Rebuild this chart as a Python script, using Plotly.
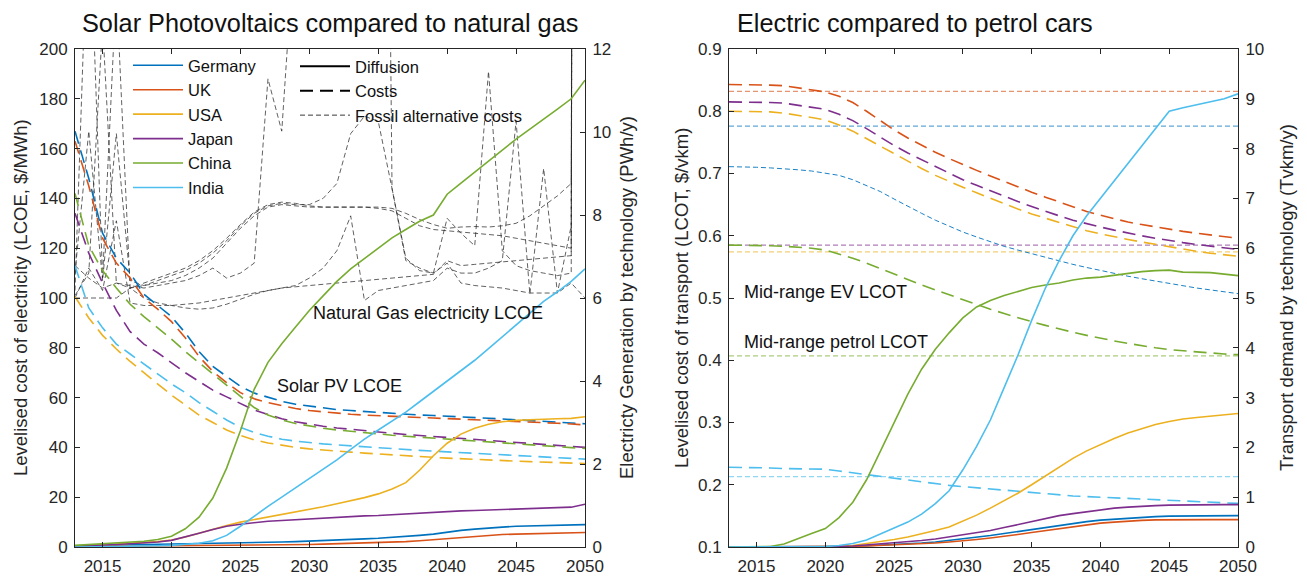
import plotly.graph_objects as go

# ---------------------------------------------------------------- data
years = list(range(2013, 2051))
countries = ["Germany", "UK", "USA", "Japan", "China", "India"]
colors = ["#0072BD", "#D95319", "#EDB120", "#7E2F8E", "#77AC30", "#4DBEEE"]

# Solar PV levelised cost of electricity ($/MWh)
pv_cost_germany = [167, 148, 126, 116, 110, 101.5, 97, 92.5, 86, 78.5, 72.5, 68.5, 64.5, 61.8, 60, 58.5, 57.3, 56.5, 55.7, 55.2,
                   54.8, 54.4, 54, 53.6, 53.3, 53, 52.8, 52.6, 52.3, 52, 51.7, 51.4, 51.1, 50.8, 50.5, 50.2, 49.8, 49.5]
pv_cost_uk = [163, 145, 124, 114, 108, 100, 95.5, 90.5, 84, 76.5, 70.5, 66, 62, 59.5, 58, 56.7, 55.6, 54.8, 54.2, 53.7,
              53.3, 53, 52.7, 52.4, 52.2, 52, 51.8, 51.6, 51.4, 51.2, 51, 50.8, 50.6, 50.3, 50, 49.7, 49.4, 49]
pv_cost_usa = [100.5, 92, 85, 79.5, 74.5, 70, 65.5, 61, 57, 53, 50, 47, 44.8, 43, 41.8, 40.8, 40, 39.4, 38.9, 38.5,
               38.1, 37.7, 37.3, 36.9, 36.6, 36.3, 36, 35.7, 35.4, 35.2, 35, 34.7, 34.5, 34.3, 34.1, 33.9, 33.7, 33.5]
pv_cost_japan = [134, 118, 106, 95, 86.5, 81.5, 78, 74, 70, 66.5, 63, 60.3, 57.5, 55, 53.2, 51.5, 50.3, 49.3, 48.5, 47.8,
                 47.2, 46.6, 46.1, 45.7, 45.2, 44.8, 44.4, 44, 43.6, 43.2, 42.8, 42.4, 42, 41.6, 41.2, 40.8, 40.4, 40]
pv_cost_china = [142, 121, 111, 104, 97.5, 92.5, 88, 83.5, 78.5, 74, 69.5, 65, 60.5, 56, 53, 51, 49.6, 48.5, 47.7, 47,
                 46.4, 45.9, 45.4, 44.9, 44.5, 44.1, 43.7, 43.3, 42.9, 42.5, 42.1, 41.7, 41.3, 40.9, 40.5, 40.2, 39.9, 39.6]
pv_cost_india = [113, 96, 88, 81.5, 77.5, 73.5, 69.5, 65.5, 62, 58, 54.5, 51, 48, 46, 44.5, 43.3, 42.5, 41.9, 41.4, 41,
                 40.6, 40.2, 39.8, 39.4, 39.1, 38.8, 38.5, 38.2, 37.9, 37.6, 37.3, 37, 36.7, 36.4, 36.1, 35.8, 35.5, 35.3]

# Solar PV generation (PWh/y)
pv_gen_germany = [0.03, 0.035, 0.04, 0.045, 0.05, 0.055, 0.06, 0.065, 0.07, 0.075, 0.08, 0.085, 0.09, 0.1, 0.11, 0.12, 0.13, 0.14, 0.15, 0.165,
                  0.18, 0.195, 0.21, 0.23, 0.25, 0.28, 0.31, 0.36, 0.4, 0.43, 0.46, 0.48, 0.5, 0.51, 0.52, 0.525, 0.53, 0.54]
pv_gen_uk = [0.01, 0.012, 0.014, 0.016, 0.018, 0.02, 0.022, 0.024, 0.026, 0.028, 0.03, 0.032, 0.035, 0.04, 0.045, 0.05, 0.055, 0.06, 0.07, 0.08,
             0.09, 0.095, 0.1, 0.11, 0.13, 0.15, 0.175, 0.2, 0.23, 0.26, 0.28, 0.3, 0.31, 0.32, 0.33, 0.34, 0.345, 0.35]
pv_gen_usa = [0.02, 0.03, 0.05, 0.07, 0.09, 0.11, 0.13, 0.17, 0.24, 0.33, 0.43, 0.52, 0.6, 0.66, 0.73, 0.79, 0.85, 0.91, 0.97, 1.04,
              1.11, 1.19, 1.28, 1.4, 1.55, 1.85, 2.2, 2.5, 2.72, 2.86, 2.96, 3.02, 3.05, 3.07, 3.08, 3.09, 3.1, 3.14]
pv_gen_japan = [0.02, 0.03, 0.05, 0.06, 0.08, 0.1, 0.12, 0.16, 0.24, 0.33, 0.42, 0.5, 0.55, 0.59, 0.62, 0.64, 0.66, 0.68, 0.7, 0.72,
                0.73, 0.75, 0.76, 0.78, 0.8, 0.81, 0.83, 0.86, 0.87, 0.88, 0.89, 0.9, 0.91, 0.92, 0.93, 0.94, 0.96, 1.03]
pv_gen_china = [0.04, 0.06, 0.08, 0.1, 0.12, 0.14, 0.18, 0.26, 0.44, 0.72, 1.18, 1.9, 2.8, 3.8, 4.45, 4.9, 5.3, 5.7, 6.05, 6.4,
                6.7, 6.95, 7.2, 7.45, 7.65, 7.85, 8.0, 8.5, 8.77, 9.04, 9.3, 9.57, 9.83, 10.07, 10.3, 10.55, 10.8, 11.25]
pv_gen_india = [0, 0, 0.01, 0.01, 0.02, 0.02, 0.03, 0.04, 0.06, 0.09, 0.15, 0.28, 0.5, 0.75, 0.98, 1.2, 1.42, 1.65, 1.87, 2.1,
                2.35, 2.6, 2.82, 3.03, 3.25, 3.5, 3.75, 4.0, 4.25, 4.5, 4.78, 5.06, 5.35, 5.64, 5.92, 6.15, 6.4, 6.7]

# Natural gas electricity LCOE ($/MWh), one path per country
gas_cost_germany = [103, 265, 108, 225, 104, 100, 98, 97, 96, 95.5, 96, 97.5, 99.5, 101.5, 103, 104, 104.5, 105, 105.5, 106,
                    106.5, 107, 107.5, 108, 108.5, 109, 109.5, 115, 113, 113.5, 114, 114.5, 115, 115.5, 116, 116.5, 117, 3000]
gas_cost_uk = [110, 167, 107, 166, 107, 105, 107, 109, 111, 114, 118, 123, 129, 134, 137, 138, 137.5, 137.5, 140, 146,
               166, 173, 171, 144, 115, 112, 110, 114, 106, 105, 104.5, 104, 103, 102, 102, 102, 106, 100]
gas_cost_usa = [100, 100, 100, 100, 104, 106, 108, 110, 112, 115, 119, 124, 129.5, 134.5, 137.5, 138.5, 138, 137, 136.5, 136.5,
                136.5, 136.5, 136.5, 136, 134, 131.5, 129.5, 128, 128.5, 128.7, 128.5, 129, 130, 133, 137, 141, 146, 2500]
gas_cost_japan = [101, 110, 210, 106, 105, 104, 105, 106, 107, 109, 112, 108, 110, 114, 188, 167, 250, 400, 500, 600,
                  650, 700, 704, 144, 116, 111, 110, 132, 126, 121, 191, 119, 113, 111, 110, 109, 110, 2500]
gas_cost_china = [100, 112, 103, 131, 98, 97, 97, 97, 97.5, 98, 99, 100, 101, 102, 103, 104, 105, 108, 112, 119,
                  133, 99, 103, 104, 105, 106, 107, 112, 110, 110, 112, 115, 171, 101.5, 152, 102, 129, 2500]
gas_cost_india = [113, 108, 104, 106, 104, 105, 106, 107, 109, 112, 116, 122, 128, 133, 136.5, 137.5, 137, 136.5, 136.5, 136.5,
                  136.5, 136.5, 136, 135, 132, 129, 127.5, 127, 126.5, 126, 125.5, 125, 124, 123, 122, 121, 120, 2500]

# Electric vehicle levelised cost of transport ($/vkm)
ev_cost_germany = [0.711, 0.711, 0.71, 0.709, 0.708, 0.706, 0.704, 0.701, 0.697, 0.69, 0.681, 0.671, 0.659, 0.647, 0.636, 0.625, 0.615, 0.606, 0.598, 0.59,
                   0.583, 0.577, 0.571, 0.565, 0.559, 0.554, 0.549, 0.544, 0.539, 0.535, 0.531, 0.527, 0.523, 0.52, 0.516, 0.513, 0.51, 0.507]
ev_cost_uk = [0.843, 0.843, 0.843, 0.842, 0.841, 0.838, 0.835, 0.831, 0.824, 0.814, 0.8, 0.785, 0.77, 0.757, 0.745, 0.734, 0.724, 0.714, 0.705, 0.696,
              0.687, 0.678, 0.67, 0.662, 0.654, 0.646, 0.639, 0.633, 0.627, 0.622, 0.618, 0.614, 0.61, 0.607, 0.604, 0.601, 0.598, 0.596]
ev_cost_usa = [0.8, 0.8, 0.8, 0.799, 0.797, 0.794, 0.79, 0.786, 0.778, 0.768, 0.756, 0.743, 0.731, 0.719, 0.708, 0.697, 0.687, 0.678, 0.669, 0.66,
               0.652, 0.643, 0.635, 0.628, 0.621, 0.614, 0.608, 0.603, 0.598, 0.594, 0.59, 0.586, 0.582, 0.578, 0.575, 0.572, 0.569, 0.567]
ev_cost_japan = [0.815, 0.815, 0.815, 0.814, 0.813, 0.81, 0.807, 0.803, 0.795, 0.785, 0.772, 0.758, 0.745, 0.733, 0.722, 0.711, 0.7, 0.69, 0.681, 0.672,
                 0.663, 0.655, 0.647, 0.639, 0.632, 0.625, 0.619, 0.614, 0.609, 0.604, 0.6, 0.596, 0.592, 0.589, 0.586, 0.583, 0.58, 0.578]
ev_cost_china = [0.585, 0.585, 0.585, 0.584, 0.583, 0.582, 0.58, 0.577, 0.571, 0.564, 0.556, 0.547, 0.538, 0.53, 0.521, 0.513, 0.505, 0.497, 0.489, 0.482,
                 0.475, 0.468, 0.462, 0.456, 0.45, 0.445, 0.44, 0.435, 0.431, 0.427, 0.423, 0.42, 0.417, 0.415, 0.413, 0.411, 0.41, 0.409]
ev_cost_india = [0.228, 0.228, 0.227, 0.227, 0.226, 0.226, 0.225, 0.225, 0.222, 0.219, 0.216, 0.213, 0.21, 0.207, 0.204, 0.201, 0.199, 0.197, 0.195, 0.193,
                 0.191, 0.189, 0.187, 0.185, 0.184, 0.182, 0.181, 0.18, 0.178, 0.177, 0.176, 0.175, 0.174, 0.173, 0.172, 0.171, 0.171, 0.17]

# Petrol car levelised cost of transport ($/vkm), held constant
petrol_cost = {"Germany": 0.776, "UK": 0.832, "USA": 0.574, "Japan": 0.585, "China": 0.407, "India": 0.213}

# Electric vehicle transport demand (Tvkm/y)
ev_demand_germany = [0, 0, 0, 0, 0, 0, 0.003, 0.005, 0.01, 0.015, 0.025, 0.035, 0.05, 0.065, 0.08, 0.1, 0.13, 0.16, 0.19, 0.23,
                     0.27, 0.31, 0.35, 0.4, 0.44, 0.48, 0.51, 0.54, 0.56, 0.58, 0.6, 0.61, 0.62, 0.625, 0.63, 0.63, 0.63, 0.63]
ev_demand_uk = [0, 0, 0, 0, 0, 0, 0.003, 0.005, 0.01, 0.013, 0.02, 0.03, 0.04, 0.05, 0.065, 0.08, 0.1, 0.12, 0.15, 0.18,
                0.21, 0.25, 0.29, 0.33, 0.37, 0.41, 0.45, 0.48, 0.5, 0.52, 0.535, 0.545, 0.55, 0.55, 0.55, 0.55, 0.55, 0.55]
ev_demand_usa = [0, 0, 0, 0, 0, 0, 0, 0.005, 0.01, 0.03, 0.07, 0.1, 0.15, 0.2, 0.26, 0.33, 0.4, 0.52, 0.64, 0.78,
                 0.93, 1.08, 1.25, 1.43, 1.61, 1.78, 1.93, 2.06, 2.18, 2.29, 2.38, 2.46, 2.52, 2.57, 2.6, 2.63, 2.65, 2.68]
ev_demand_japan = [0, 0, 0, 0, 0, 0, 0, 0.005, 0.01, 0.02, 0.04, 0.06, 0.08, 0.1, 0.13, 0.16, 0.2, 0.24, 0.28, 0.33,
                   0.39, 0.45, 0.52, 0.58, 0.63, 0.67, 0.71, 0.75, 0.78, 0.8, 0.82, 0.83, 0.84, 0.845, 0.85, 0.85, 0.85, 0.85]
ev_demand_china = [0, 0, 0.005, 0.01, 0.06, 0.17, 0.27, 0.37, 0.59, 0.9, 1.35, 1.92, 2.48, 3.07, 3.57, 3.97, 4.3, 4.6, 4.82, 4.95,
                   5.05, 5.13, 5.21, 5.26, 5.3, 5.36, 5.4, 5.42, 5.46, 5.5, 5.53, 5.55, 5.56, 5.52, 5.52, 5.51, 5.48, 5.45]
ev_demand_india = [0, 0, 0, 0, 0, 0, 0, 0.01, 0.03, 0.07, 0.14, 0.26, 0.38, 0.5, 0.66, 0.87, 1.13, 1.55, 2.02, 2.55,
                   3.2, 3.85, 4.55, 5.2, 5.75, 6.25, 6.65, 7.0, 7.35, 7.72, 8.07, 8.4, 8.75, 8.82, 8.88, 8.95, 9.0, 9.1]

pv_cost = [pv_cost_germany, pv_cost_uk, pv_cost_usa, pv_cost_japan, pv_cost_china, pv_cost_india]
pv_gen = [pv_gen_germany, pv_gen_uk, pv_gen_usa, pv_gen_japan, pv_gen_china, pv_gen_india]
gas_cost = [gas_cost_germany, gas_cost_uk, gas_cost_usa, gas_cost_japan, gas_cost_china, gas_cost_india]
ev_cost = [ev_cost_germany, ev_cost_uk, ev_cost_usa, ev_cost_japan, ev_cost_china, ev_cost_india]
ev_demand = [ev_demand_germany, ev_demand_uk, ev_demand_usa, ev_demand_japan, ev_demand_china, ev_demand_india]

x_ticks = [2015, 2020, 2025, 2030, 2035, 2040, 2045, 2050]

# ---------------------------------------------------------------- style
FONT = "Liberation Sans, Arial, Helvetica, sans-serif"
INK = "#262626"
W, H = 1307, 579
COST_DASH = "13px,7px"
FOSSIL_DASH = "5px,3px"
FOSSIL_INK = "rgba(35,35,35,0.9)"


def faded(hex_color, alpha=0.62):
    r, g, b = (int(hex_color[i:i + 2], 16) for i in (1, 3, 5))
    mix = lambda c: round(255 * (1 - alpha) + c * alpha)
    return f"rgb({mix(r)},{mix(g)},{mix(b)})"


fig = go.Figure()

# ---- left panel: solar PV vs natural gas
for name, vals in zip(countries, gas_cost):
    fig.add_trace(go.Scatter(x=years, y=vals, xaxis="x", yaxis="y", mode="lines",
                             line=dict(color=FOSSIL_INK, width=0.8, dash=FOSSIL_DASH),
                             showlegend=False, name=name))
for name, col, vals in zip(countries, colors, pv_cost):
    fig.add_trace(go.Scatter(x=years, y=vals, xaxis="x", yaxis="y", mode="lines",
                             line=dict(color=col, width=1.6, dash=COST_DASH),
                             showlegend=False, name=name))
for name, col, vals in zip(countries, colors, pv_gen):
    fig.add_trace(go.Scatter(x=years, y=vals, xaxis="x", yaxis="y2", mode="lines",
                             line=dict(color=col, width=1.6),
                             showlegend=True, legend="legend", name=name))

# line-style key
fig.add_trace(go.Scatter(x=[None], y=[None], xaxis="x", yaxis="y", mode="lines",
                         line=dict(color="black", width=2), name="Diffusion", legend="legend2"))
fig.add_trace(go.Scatter(x=[None], y=[None], xaxis="x", yaxis="y", mode="lines",
                         line=dict(color="black", width=2, dash=COST_DASH), name="Costs", legend="legend2"))
fig.add_trace(go.Scatter(x=[None], y=[None], xaxis="x", yaxis="y", mode="lines",
                         line=dict(color=FOSSIL_INK, width=1, dash=FOSSIL_DASH),
                         name="Fossil alternative costs", legend="legend2"))

# ---- right panel: electric vs petrol cars
for name, col in zip(countries, colors):
    fig.add_trace(go.Scatter(x=[years[0], years[-1]], y=[petrol_cost[name]] * 2, xaxis="x2", yaxis="y3",
                             mode="lines", line=dict(color=faded(col), width=1.2, dash=FOSSIL_DASH),
                             showlegend=False, name=name))
for name, col, vals in zip(countries, colors, ev_cost):
    if name == "Germany":
        line = dict(color=col, width=0.9, dash=FOSSIL_DASH)
    else:
        line = dict(color=col, width=1.6, dash=COST_DASH)
    fig.add_trace(go.Scatter(x=years, y=vals, xaxis="x2", yaxis="y3", mode="lines",
                             line=line, showlegend=False, name=name))
for name, col, vals in zip(countries, colors, ev_demand):
    fig.add_trace(go.Scatter(x=years, y=vals, xaxis="x2", yaxis="y4", mode="lines",
                             line=dict(color=col, width=1.6), showlegend=False, name=name))

# ---------------------------------------------------------------- axes
axis_base = dict(showline=True, linecolor=INK, linewidth=1, ticks="inside", ticklen=5,
                 tickcolor=INK, tickwidth=1, showgrid=False, zeroline=False, automargin=False,
                 tickfont=dict(size=17, color=INK, family=FONT))
x_base = dict(axis_base, ticklabelstandoff=4)
y_base = dict(axis_base, ticklabelstandoff=3)

left_dom = [75 / W, 585 / W]
right_dom = [729 / W, 1238 / W]
y_dom = [32 / H, 530 / H]

fig.update_layout(
    xaxis=dict(x_base, domain=left_dom, range=[2013, 2050], tickvals=x_ticks, anchor="y", mirror="ticks"),
    yaxis=dict(y_base, domain=y_dom, range=[0, 200], tickvals=list(range(0, 201, 20)), anchor="x"),
    yaxis2=dict(y_base, range=[0, 12], tickvals=list(range(0, 13, 2)), overlaying="y", side="right", anchor="x"),
    xaxis2=dict(x_base, domain=right_dom, range=[2013, 2050], tickvals=x_ticks, anchor="y3", mirror="ticks"),
    yaxis3=dict(y_base, domain=y_dom, range=[0.1, 0.9], tickvals=[0.1, 0.2, 0.3, 0.4, 0.5, 0.6, 0.7, 0.8, 0.9],
                tickformat=".1f", anchor="x2"),
    yaxis4=dict(y_base, range=[0, 10], tickvals=list(range(0, 11)), overlaying="y3", side="right", anchor="x2"),
)

legend_base = dict(bgcolor="rgba(0,0,0,0)", borderwidth=0, font=dict(size=16.5, color="#111111", family=FONT),
                   xanchor="left", yanchor="top", itemwidth=50, tracegroupgap=0)
fig.update_layout(
    legend=dict(legend_base, x=128 / W, y=1 - 48 / H),
    legend2=dict(legend_base, x=295 / W, y=1 - 49 / H),
)


def label(text, x, y, size=18, angle=0, xanchor="center", xref="paper", yref="paper", color="#111111"):
    fig.add_annotation(text=text, x=x, y=y, xref=xref, yref=yref, showarrow=False, textangle=angle,
                       xanchor=xanchor, yanchor="middle", font=dict(size=size, color=color, family=FONT))


# titles
label("Solar Photovoltaics compared to natural gas", 80 / W, 1 - 23 / H, size=25.3, xanchor="left")
label("Electric compared to petrol cars", 735 / W, 1 - 23 / H, size=25.3, xanchor="left")

# axis titles
y_mid = 1 - 298 / H
label("Levelised cost of electricity (LCOE, $/MWh)", 20 / W, y_mid, size=18.5, angle=-90, color=INK)
label("Electricty Generation by technology (PWh/y)", 626 / W, y_mid, size=18.5, angle=-90, color=INK)
label("Levelised cost of transport (LCOT, $/vkm)", 681 / W, y_mid, size=18.5, angle=-90, color=INK)
label("Transport demand by technology (Tvkm/y)", 1286 / W, y_mid, size=18.5, angle=-90, color=INK)

# in-plot notes
label("Natural Gas electricity LCOE", 2030.1, 94, xanchor="left", xref="x", yref="y")
label("Solar PV LCOE", 2027.5, 64.5, xanchor="left", xref="x", yref="y")
label("Mid-range EV LCOT", 2013.95, 0.51, xanchor="left", xref="x2", yref="y3")
label("Mid-range petrol LCOT", 2013.95, 0.43, xanchor="left", xref="x2", yref="y3")

fig.update_layout(
    width=W, height=H, margin=dict(l=0, r=0, t=0, b=0, autoexpand=False),
    paper_bgcolor="white", plot_bgcolor="rgba(0,0,0,0)",
    font=dict(family=FONT, color=INK),
)

fig.write_html("out.html")
